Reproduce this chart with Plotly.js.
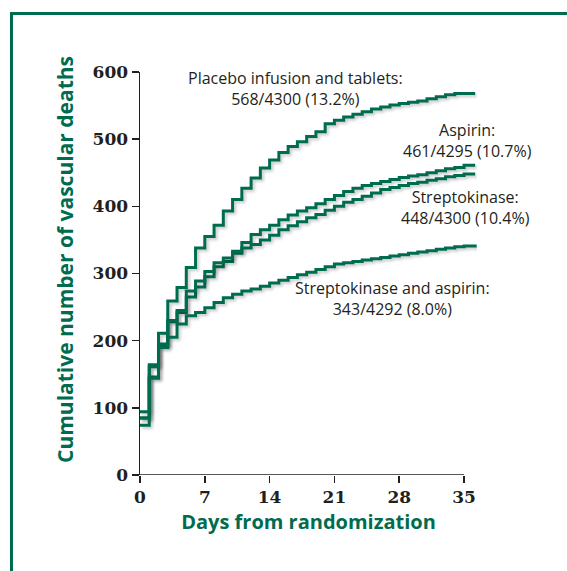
<!DOCTYPE html>
<html>
<head>
<meta charset="utf-8">
<script src="https://cdn.plot.ly/plotly-3.0.1.min.js"></script>
<style>
  html, body { margin: 0; padding: 0; width: 567px; height: 571px; overflow: hidden; background: #fff; }
  #frame { position: absolute; left: 10px; top: 12px; width: 700px; height: 700px;
           border-left: 3px solid #006c4f; border-top: 3px solid #006c4f; }
  #chart { position: absolute; left: 0; top: 0; width: 567px; height: 571px; }
  #chart .scatterlayer .js-line { filter: drop-shadow(2px 2px 1.5px rgba(0,0,0,0.22)); }
</style>
</head>
<body>
<div id="frame"></div>
<div id="chart"></div>
<script>
// Days from randomization (last entry = end of drawn step line)
const days = [0,1,2,3,4,5,6,7,8,9,10,11,12,13,14,15,16,17,18,19,20,21,22,23,24,25,26,27,28,29,30,31,32,33,34,35,36.2];

// Cumulative vascular deaths
const placebo = [85,164,211,259,279,309,338,355,372,393,410,427,442,457,469,480,489,496,504,511,523,528,533,537,541,545,548,551,553,555,557,560,563,566,568,568,568];
const aspirin = [85,146,192,228,242,265,280,295,310,318,330,346,358,365,372,380,387,393,398,404,410,416,422,427,431,434,437,440,443,445,447,450,453,456,458,461,461];
const streptokinase = [94,161,195,230,245,274,289,303,316,323,333,338,343,350,357,365,371,377,383,388,394,400,406,410,415,420,425,428,431,434,436,439,441,444,446,448,448];
const skAspirin = [74,144,190,205,225,237,242,249,257,264,269,274,277,281,286,290,294,298,302,306,310,314,316,318,320,322,324,326,328,330,332,334,336,338,340,341,343];

const seriesNames = ["Placebo infusion and tablets", "Aspirin", "Streptokinase", "Streptokinase and aspirin"];
const seriesValues = [placebo, aspirin, streptokinase, skAspirin];

// Label texts
const labelLines = [
  ["Placebo infusion and tablets:", "568/4300 (13.2%)"],
  ["Aspirin:", "461/4295 (10.7%)"],
  ["Streptokinase:", "448/4300 (10.4%)"],
  ["Streptokinase and aspirin:", "343/4292 (8.0%)"]
];
const xTicks = [0,7,14,21,28,35];
const yTicks = [0,100,200,300,400,500,600];
const xTitle = "Days from randomization";
const yTitle = "Cumulative number of vascular deaths";

const green = "#006c4f";
const ink = "#231f20";

const traces = seriesValues.map((vals, i) => ({
  x: days, y: vals, type: "scatter", mode: "lines", name: seriesNames[i],
  line: { shape: "hv", color: green, width: 3 }, hoverinfo: "skip"
}));

// label positions (data coords)
const labelPos = [
  { x: 16.8, y: 576 },
  { x: 35.4, y: 498 },
  { x: 35.2, y: 399 },
  { x: 27.3, y: 263 }
];
const annotations = labelLines.map((lines, i) => ({
  x: labelPos[i].x, y: labelPos[i].y, xref: "x", yref: "y",
  text: lines.join("<br>"), showarrow: false, align: "center",
  xanchor: "center", yanchor: "middle",
  font: { family: "'Open Sans', sans-serif", size: 16, color: ink }
}));
// y axis title placed as rotated text
annotations.push({
  x: -0.2226, y: 0.536, xref: "paper", yref: "paper", textangle: -90,
  text: "<b>" + yTitle + "</b>", showarrow: false, xanchor: "center", yanchor: "middle",
  font: { family: "'Open Sans', sans-serif", size: 21, color: green }
});

const layout = {
  width: 567, height: 571,
  margin: { l: 140, r: 90, t: 72, b: 96 },
  paper_bgcolor: "rgba(0,0,0,0)", plot_bgcolor: "rgba(0,0,0,0)",
  showlegend: false,
  xaxis: {
    range: [0, 36.4], tickvals: xTicks, ticktext: xTicks.map(String),
    ticks: "outside", ticklen: 7, tickwidth: 1.5, tickcolor: ink,
    showline: false, showgrid: false, zeroline: false,
    tickfont: { family: "'DejaVu Serif', serif", size: 17, color: ink, weight: "bold" },
    title: { text: "<b>" + xTitle + "</b>", standoff: 8,
             font: { family: "'Open Sans', sans-serif", size: 20, color: green } },
    fixedrange: true
  },
  yaxis: {
    range: [0, 600], tickvals: yTicks, ticktext: yTicks.map(String),
    ticks: "outside", ticklen: 7, tickwidth: 1.5, tickcolor: ink,
    showline: true, linecolor: ink, linewidth: 1.5, showgrid: false, zeroline: false,
    tickfont: { family: "'DejaVu Serif', serif", size: 17, color: ink, weight: "bold" },
    fixedrange: true
  },
  shapes: [
    { type: "line", xref: "x", yref: "y", x0: 0, x1: 35, y0: 0, y1: 0,
      line: { color: ink, width: 1.5 }, layer: "above" }
  ],
  annotations: annotations
};

Plotly.newPlot("chart", traces, layout, { displayModeBar: false, staticPlot: true });
</script>
</body>
</html>
